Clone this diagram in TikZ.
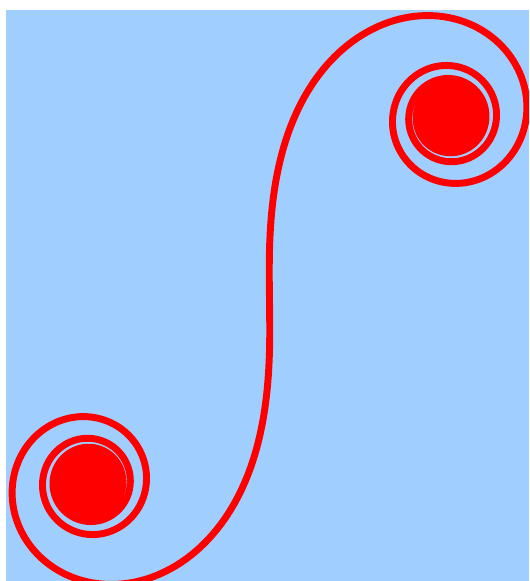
\documentclass[tikz,border=0pt]{standalone}
\definecolor{skyfill}{RGB}{160,207,255}
\begin{document}
\begin{tikzpicture}[x=0.75pt,y=-0.75pt,
  declare function={
    fresf(\t)=(1+0.926*\t)/(2+1.792*\t+3.104*\t*\t);
    fresg(\t)=1/(2+4.142*\t+3.492*\t*\t+6.670*\t*\t*\t);
    fresC(\t)=0.5+fresf(\t)*sin(90*\t*\t)-fresg(\t)*cos(90*\t*\t);
    fresS(\t)=0.5-fresf(\t)*cos(90*\t*\t)-fresg(\t)*sin(90*\t*\t);
  },
  spiral/.style={draw=red, line width=5.2pt, line join=round, line cap=round},
  core/.style={fill=red}]
\useasboundingbox (0,0) rectangle (529,581);
\fill[skyfill] (6,10) rectangle (529,581);
\coordinate (ur) at (449.5,117.5);
\coordinate (ll) at (89.5,482.5);
\begin{scope}
\clip (6,10) rectangle (529,581);
\draw[spiral] plot[domain=6:0,samples=601] ({269.5-360*fresS(\x)},{300+365*fresC(\x)})
  -- plot[domain=0:6,samples=601] ({269.5+360*fresS(\x)},{300-365*fresC(\x)});
\fill[core] (ur) circle[radius=22];
\fill[core] (ll) circle[radius=22];
\end{scope}
\end{tikzpicture}
\end{document}
